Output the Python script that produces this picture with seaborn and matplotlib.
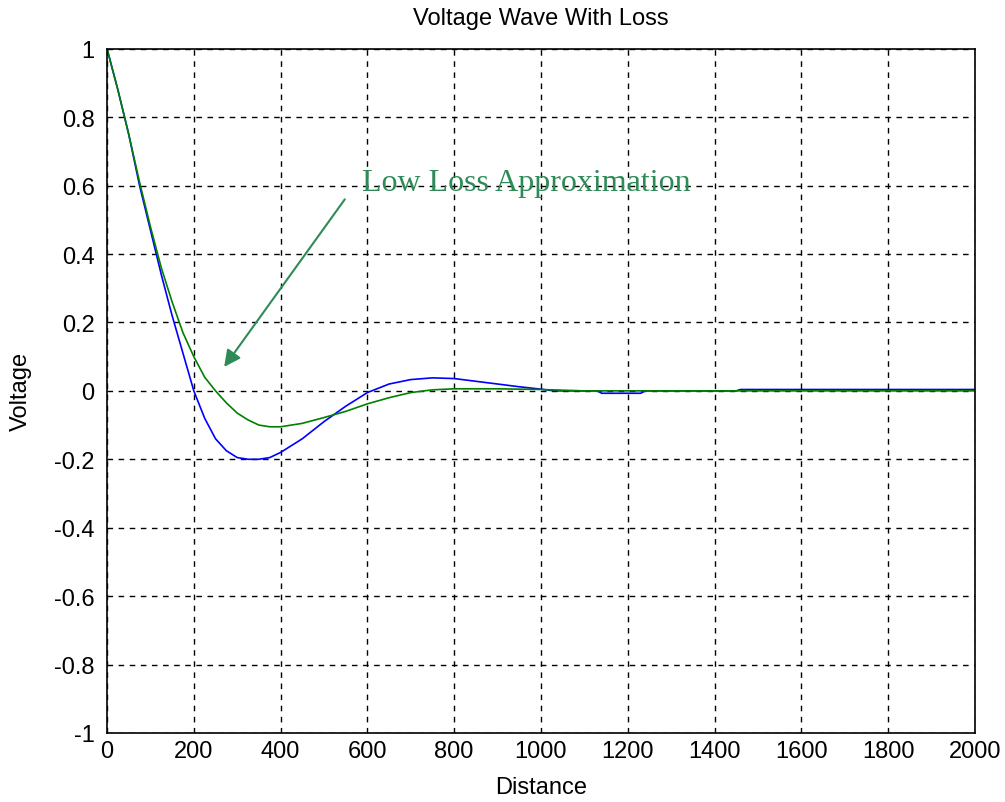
import numpy as np
import pandas as pd
import matplotlib
matplotlib.use('Agg')
from matplotlib import pyplot as plt
import seaborn as sns

# exact wave (blue)
blue_x = [0, 25, 50, 75, 100, 125, 150, 175, 200, 225, 250, 275, 300, 325, 350, 375, 400,
          450, 500, 550, 600, 650, 700, 750, 800, 850, 900, 950, 1000, 1030, 1130, 1140,
          1230, 1240, 1450, 1460, 2000]
blue_y = [1.0, 0.88, 0.75, 0.60, 0.47, 0.34, 0.22, 0.11, 0.0, -0.08, -0.14, -0.175, -0.195,
          -0.2, -0.2, -0.195, -0.18, -0.14, -0.09, -0.045, -0.005, 0.02, 0.033, 0.038, 0.036,
          0.028, 0.02, 0.012, 0.005, 0.0, 0.0, -0.007, -0.007, 0.0, 0.0, 0.004, 0.004]

# low loss approximation (green)
green_x = [0, 25, 50, 75, 100, 125, 150, 175, 200, 225, 250, 275, 300, 325, 350, 375, 400,
           450, 500, 550, 600, 650, 700, 750, 800, 900, 1000, 1050, 1100, 2000]
green_y = [1.0, 0.88, 0.75, 0.61, 0.48, 0.36, 0.26, 0.17, 0.10, 0.04, 0.0, -0.035, -0.065,
           -0.085, -0.1, -0.105, -0.105, -0.095, -0.078, -0.06, -0.038, -0.02, -0.005, 0.003,
           0.006, 0.006, 0.004, 0.002, 0.0, 0.0]

x_ticks = list(range(0, 2001, 200))
y_ticks = [-1, -0.8, -0.6, -0.4, -0.2, 0, 0.2, 0.4, 0.6, 0.8, 1]

sns.set_style("white")
plt.rcParams['font.family'] = ['Liberation Sans', 'DejaVu Sans']
plt.rcParams['text.color'] = 'black'
plt.rcParams['axes.labelcolor'] = 'black'

fig = plt.figure(figsize=(10.05, 8.03), dpi=100)
ax = fig.add_axes([0.1065, 0.086, 0.8635, 0.852])

blue = pd.DataFrame({'Distance': blue_x, 'Voltage': blue_y})
green = pd.DataFrame({'Distance': green_x, 'Voltage': green_y})
sns.lineplot(data=blue, x='Distance', y='Voltage', color='#0000ff', linewidth=1.2, ax=ax)
sns.lineplot(data=green, x='Distance', y='Voltage', color='#008000', linewidth=1.2, ax=ax)

ax.set_xlim(0, 2000)
ax.set_ylim(-1, 1)
ax.set_xticks(x_ticks)
ax.set_yticks(y_ticks)
ax.set_yticklabels([f"{v:g}" for v in y_ticks])
ax.tick_params(direction='in', length=7, width=1, labelsize=17, colors='black')
ax.tick_params(axis='y', pad=9)
ax.tick_params(axis='x', pad=5)
ax.grid(True, color='black', linestyle=(0, (4, 4)), linewidth=1)
for s in ax.spines.values():
    s.set_color('black')
    s.set_linewidth(1.2)

ax.set_title("Voltage Wave With Loss", fontsize=17, pad=18, color='black')
ax.set_xlabel("Distance", fontsize=17, labelpad=10)
ax.set_ylabel("Voltage", fontsize=17, labelpad=16)

ax.text(587, 0.61, "Low Loss Approximation", fontsize=23, family=['Liberation Serif'],
        color='#2e8b57', va='center', ha='left')
ax.annotate("", xy=(270, 0.07), xytext=(548, 0.56),
            arrowprops=dict(arrowstyle='-|>', color='#2e8b57', lw=1.5,
                            mutation_scale=25, shrinkA=0, shrinkB=0))

fig.savefig("out.png", dpi=100)
